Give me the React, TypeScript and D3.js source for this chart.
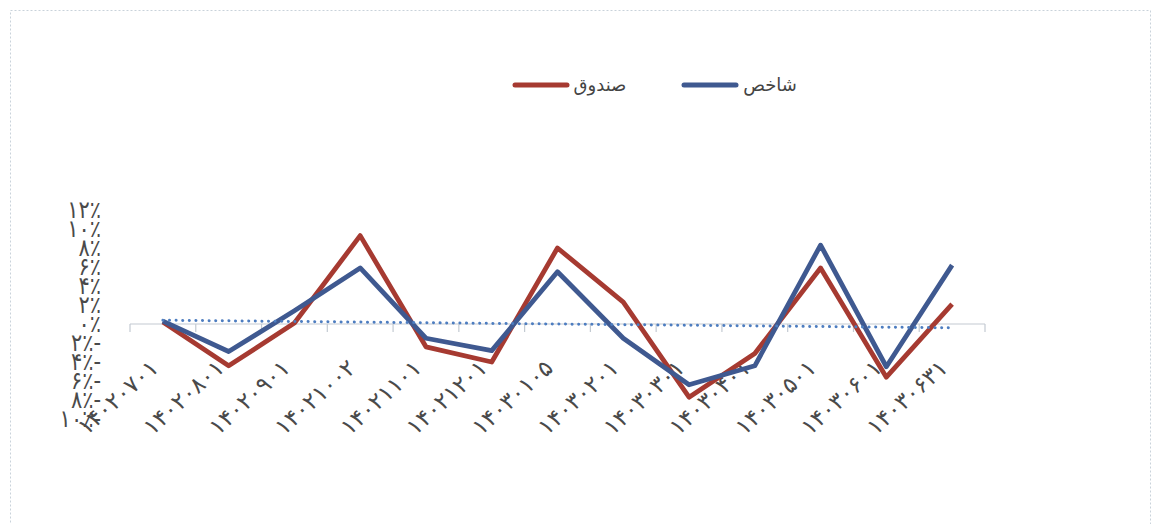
import React, { useEffect, useRef } from "react";
import * as d3 from "d3";

// --- data ---
const dates = [
  "۱۴۰۲۰۷۰۱", "۱۴۰۲۰۸۰۱", "۱۴۰۲۰۹۰۱", "۱۴۰۲۱۰۰۲", "۱۴۰۲۱۱۰۱", "۱۴۰۲۱۲۰۱",
  "۱۴۰۳۰۱۰۵", "۱۴۰۳۰۲۰۱", "۱۴۰۳۰۳۰۱", "۱۴۰۳۰۴۰۱", "۱۴۰۳۰۵۰۱", "۱۴۰۳۰۶۰۱", "۱۴۰۳۰۶۳۱",
];
const fund = [0.2, -4.4, 0.1, 9.3, -2.4, -4.0, 8.0, 2.3, -7.7, -3.1, 5.9, -5.6, 2.1]; // صندوق
const index = [0.3, -2.9, 1.4, 5.9, -1.5, -2.8, 5.5, -1.5, -6.4, -4.4, 8.3, -4.5, 6.2]; // شاخص
const trend = [0.4, -0.4]; // dotted trendline, first and last point
const yTicks = [12, 10, 8, 6, 4, 2, 0, -2, -4, -6, -8, -10];
const yTickLabels = ["۱۲٪", "۱۰٪", "۸٪", "۶٪", "۴٪", "۲٪", "۰٪", "۲٪-", "۴٪-", "۶٪-", "۸٪-", "۱۰٪-"];
const legendItems = [
  { name: "صندوق", color: "#a63a31" },
  { name: "شاخص", color: "#3f5990" },
];

export default function App() {
  const svgRef = useRef<SVGSVGElement | null>(null);

  useEffect(() => {
    const width = 1159;
    const height = 524;
    const svg = d3.select(svgRef.current).attr("width", width).attr("height", height);
    svg.selectAll("*").remove();

    svg.append("rect").attr("width", width).attr("height", height).attr("fill", "#ffffff");

    // faint page border from the scan
    svg.append("rect")
      .attr("x", 10.5).attr("y", 10.5)
      .attr("width", 1140).attr("height", 600)
      .attr("fill", "none")
      .attr("stroke", "#c9d2da")
      .attr("stroke-dasharray", "2 2");

    const x = d3.scaleBand<string>().domain(dates).range([130, 985]);
    const cx = (d: string) => (x(d) as number) + x.bandwidth() / 2;
    const y = d3.scaleLinear().domain([-10, 12]).range([419, 210]);

    // --- axis ---
    const axisY = y(0);
    svg.append("line")
      .attr("x1", 130).attr("x2", 985)
      .attr("y1", axisY).attr("y2", axisY)
      .attr("stroke", "#c3cad2").attr("stroke-width", 1.2);

    const tickXs = dates.map(d => x(d) as number).concat([985]);
    svg.selectAll(".tick")
      .data(tickXs)
      .join("line")
      .attr("x1", d => d).attr("x2", d => d)
      .attr("y1", axisY).attr("y2", axisY + 8)
      .attr("stroke", "#c3cad2").attr("stroke-width", 1.2);

    // y labels (squeezed together like the scan)
    svg.selectAll(".ylab")
      .data(yTicks)
      .join("text")
      .attr("transform", d => `translate(101,${y(d)}) scale(1,1.15)`)
      .attr("dy", "0.35em")
      .attr("text-anchor", "end")
      .attr("direction", "ltr")
      .style("unicode-bidi", "bidi-override")
      .attr("font-family", "DejaVu Sans")
      .attr("font-size", 21)
      .attr("fill", "#4a4a4a")
      .text((d, i) => yTickLabels[i]);

    // x labels, rotated
    svg.selectAll(".xlab")
      .data(dates)
      .join("text")
      .attr("transform", d => `translate(${cx(d) - 3},${axisY + 46}) rotate(-42)`)
      .attr("text-anchor", "end")
      .attr("font-family", "DejaVu Sans")
      .attr("font-size", 23)
      .attr("letter-spacing", 1.5)
      .attr("fill", "#4a4a4a")
      .text(d => d);

    // --- lines ---
    const line = d3.line<number>()
      .x((d, i) => cx(dates[i]))
      .y(d => y(d));

    svg.append("path")
      .datum(fund)
      .attr("d", line)
      .attr("fill", "none")
      .attr("stroke", legendItems[0].color)
      .attr("stroke-width", 4.8)
      .attr("stroke-linejoin", "round");

    svg.append("path")
      .datum(index)
      .attr("d", line)
      .attr("fill", "none")
      .attr("stroke", legendItems[1].color)
      .attr("stroke-width", 4.8)
      .attr("stroke-linejoin", "round");

    // dotted trendline
    svg.append("line")
      .attr("x1", cx(dates[0])).attr("y1", y(trend[0]))
      .attr("x2", cx(dates[dates.length - 1])).attr("y2", y(trend[1]))
      .attr("stroke", "#4d7dc0")
      .attr("stroke-width", 3)
      .attr("stroke-linecap", "round")
      .attr("stroke-dasharray", "0.1 6.5");

    // --- legend ---
    const legend = svg.append("g");
    const legendPos = [
      { lx: 515, tx: 600 },
      { lx: 684, tx: 770 },
    ];
    legendItems.forEach((item, i) => {
      const p = legendPos[i];
      legend.append("line")
        .attr("x1", p.lx).attr("x2", p.lx + 52)
        .attr("y1", 85).attr("y2", 85)
        .attr("stroke", item.color)
        .attr("stroke-width", 5)
        .attr("stroke-linecap", "round");
      legend.append("text")
        .attr("x", p.tx).attr("y", 91)
        .attr("text-anchor", "middle")
        .attr("font-family", "DejaVu Sans")
        .attr("font-size", 18)
        .attr("fill", "#444")
        .text(item.name);
    });
  }, []);

  return (
    <svg ref={svgRef} style={{ position: "absolute", left: 0, top: 0, display: "block" }}></svg>
  );
}
